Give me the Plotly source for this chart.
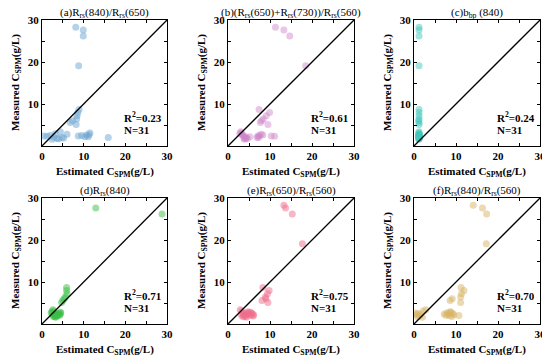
import plotly.graph_objects as go

# Measured CSPM (g/L), shared by all six panels
measured = [28.3, 27.6, 26.2, 19.1, 8.7, 8.0, 7.2, 6.4, 6.0, 5.6, 5.1,
            3.4, 3.1, 2.9, 2.8, 2.7, 2.6, 2.5, 2.5, 2.4, 2.4, 2.3, 2.2, 2.2, 2.1,
            2.0, 2.0, 1.9, 1.8, 1.7, 1.6]

# Estimated CSPM (g/L) for each model
est_a = [8.1, 9.9, 9.9, 8.8, 8.9, 8.6, 8.4, 8.3, 7.3, 6.8, 8.2,
         4.4, 11.5, 3.2, 6.0, 11.3, 10.7, 2.0, 9.5, 0.4, 8.7, 1.2, 10.3, 11.1, 2.8,
         15.9, 4.8, 5.2, 3.6, 4.0, 2.4]
est_b = [11.3, 13.3, 14.7, 18.5, 7.4, 9.9, 9.1, 8.4, 8.0, 7.7, 9.5,
         3.0, 3.2, 2.8, 7.9, 3.4, 8.3, 7.5, 3.6, 7.1, 10.3, 11.1, 5.2, 4.0, 4.4,
         6.9, 7.3, 3.8, 4.2, 4.6, 3.9]
est_c = [1.2, 1.2, 1.2, 1.2, 1.2, 1.2, 1.2, 1.2, 1.1, 1.2, 1.2,
         1.2, 1.1, 1.2, 1.3, 1.2, 1.1, 1.2, 1.3, 1.2, 1.1, 1.2, 1.3, 1.2, 1.1,
         1.2, 1.3, 1.2, 1.1, 1.2, 1.2]
est_d = [None, 12.9, 28.8, None, 5.9, 5.9, 6.0, 5.6, 5.3, 5.0, 4.7,
         2.6, 2.8, 2.4, 4.4, 2.2, 4.5, 3.0, 4.0, 3.6, 4.2, 2.5, 3.2, 3.8, 4.3,
         2.9, 3.4, 3.7, 2.7, 3.1, 3.3]
est_e = [13.3, 13.7, 15.3, 17.7, 8.3, 9.8, 9.4, 8.9, 9.0, 8.1, 9.5,
         2.9, 3.3, 4.8, 5.3, 4.5, 5.6, 3.5, 5.0, 4.2, 5.8, 3.7, 6.1, 4.6, 3.2,
         5.4, 3.9, 6.0, 4.1, 3.6, 4.4]
est_f = [14.1, 16.3, 17.3, 17.2, 11.2, 11.9, 11.3, 11.1, 9.1, 8.6, 11.1,
         2.8, 2.2, 8.6, 8.8, 7.9, 0.3, 9.2, 1.0, 7.2, 8.2, 1.6, 9.5, 0.6, 7.6,
         10.7, 8.4, 1.3, 9.0, 0.8, 2.0]

titles = ["(a)R<sub>rs</sub>(840)/R<sub>rs</sub>(650)",
          "(b)(R<sub>rs</sub>(650)+R<sub>rs</sub>(730))/R<sub>rs</sub>(560)",
          "(c)b<sub>bp</sub> (840)",
          "(d)R<sub>rs</sub>(840)",
          "(e)R<sub>rs</sub>(650)/R<sub>rs</sub>(560)",
          "(f)R<sub>rs</sub>(840)/R<sub>rs</sub>(560)"]
r2_values = ["0.23", "0.61", "0.24", "0.71", "0.75", "0.70"]
n_label = "31"
x_title = "Estimated C<sub>SPM</sub>(g/L)"
y_title = "Measured C<sub>SPM</sub>(g/L)"
estimates = [est_a, est_b, est_c, est_d, est_e, est_f]
colors = ["rgba(110,165,210,0.5)", "rgba(205,130,200,0.45)", "rgba(70,200,190,0.5)",
          "rgba(60,190,70,0.5)", "rgba(240,110,140,0.5)", "rgba(215,180,100,0.5)"]

# page body has an 8px margin; the figure is offset accordingly
OFF = 8
W, H = 550 - OFF, 361 - OFF


def px(x):
    return (x - OFF) / W


def py(y):
    return 1 - (y - OFF) / H


col_px = [(42, 167), (228, 354), (414, 540)]
row_px = [(20, 146), (198, 324)]

FONT = "Liberation Serif, Times New Roman, serif"
fig = go.Figure()
tickvals = [0, 5, 10, 15, 20, 25, 30]
xtext = ["0", "", "10", "", "20", "", "30"]
ytext = ["", "", "10", "", "20", "", "30"]
bold11 = dict(family=FONT, size=11, color="black", weight="bold")

for i in range(6):
    r, c = divmod(i, 3)
    x0, x1 = col_px[c]
    y0, y1 = row_px[r]
    n = i + 1
    xa = "x" if n == 1 else f"x{n}"
    ya = "y" if n == 1 else f"y{n}"
    axis_common = dict(range=[0, 30], tickmode="array", tickvals=tickvals,
                       ticks="inside", ticklen=3, tickwidth=1, tickcolor="black",
                       showline=True, linecolor="black", linewidth=1, mirror="ticks",
                       showgrid=False, zeroline=False, automargin=False,
                       tickfont=bold11)
    fig.update_layout({
        f"xaxis{'' if n == 1 else n}": dict(axis_common, domain=[px(x0), px(x1)], anchor=ya,
                                            ticktext=xtext),
        f"yaxis{'' if n == 1 else n}": dict(axis_common, domain=[py(y1), py(y0)], anchor=xa,
                                            ticktext=ytext),
    })
    fig.add_trace(go.Scatter(x=estimates[i], y=measured, mode="markers", xaxis=xa, yaxis=ya,
                             marker=dict(size=7, color=colors[i], line=dict(width=0)),
                             showlegend=False))
    fig.add_trace(go.Scatter(x=[0, 30], y=[0, 30], mode="lines", xaxis=xa, yaxis=ya,
                             line=dict(color="black", width=1.3), showlegend=False))
    fig.add_annotation(x=19.3, y=6.9, xref=xa, yref=ya, xanchor="left", yanchor="middle",
                       text="R<sup>2</sup>=" + r2_values[i], showarrow=False, font=bold11)
    fig.add_annotation(x=19.3, y=3.7, xref=xa, yref=ya, xanchor="left", yanchor="middle",
                       text="N=" + n_label, showarrow=False, font=bold11)
    fig.add_annotation(x=px((x0 + x1) / 2), y=py(y0 - 7), xref="paper", yref="paper",
                       xanchor="center", yanchor="middle", text=titles[i], showarrow=False,
                       borderpad=0, font=dict(family=FONT, size=11, color="black"))
    fig.add_annotation(x=px((x0 + x1) / 2), y=py(y1 + 26), xref="paper", yref="paper",
                       xanchor="center", yanchor="middle", text=x_title, showarrow=False,
                       font=bold11)
    fig.add_annotation(x=px(x0 - 26), y=py((y0 + y1) / 2), xref="paper", yref="paper",
                       xanchor="center", yanchor="middle", text=y_title, showarrow=False,
                       textangle=-90, font=bold11)

fig.update_layout(width=W, height=H, margin=dict(l=0, r=0, t=0, b=0),
                  paper_bgcolor="white", plot_bgcolor="white")
fig.write_html("out.html")
